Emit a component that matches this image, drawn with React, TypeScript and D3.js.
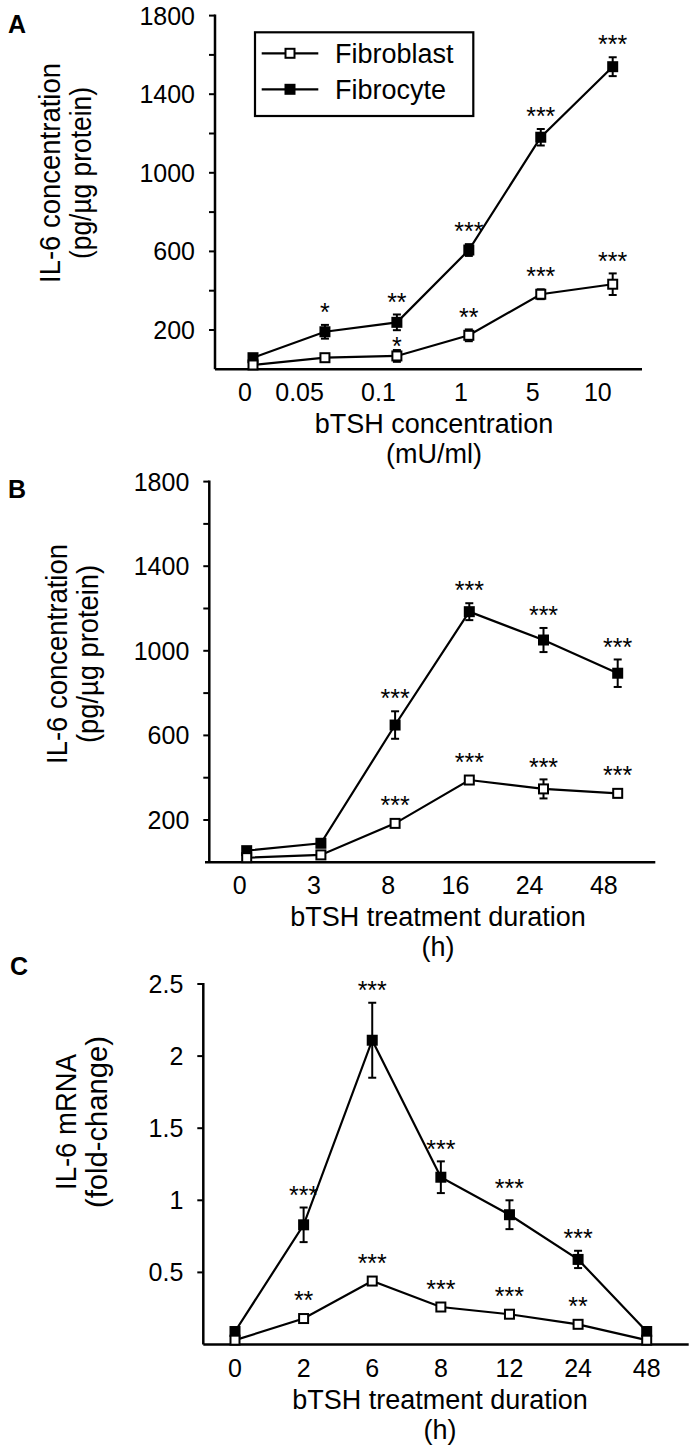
import React from "react";
import * as d3 from "d3";

// ---------- DATA ----------
// Panel A: bTSH concentration (mU/ml)
const aCats = ["0", "0.05", "0.1", "1", "5", "10"];
const aFibroblast = [22, 59, 68, 173, 382, 433];
const aFibroblastErr = [8, 12, 30, 30, 25, 55];
const aFibrocyte = [59, 191, 239, 607, 1181, 1540];
const aFibrocyteErr = [12, 35, 40, 30, 42, 48];
const aFibroblastSig = ["", "", "*", "**", "***", "***"];
const aFibrocyteSig = ["", "*", "**", "***", "***", "***"];

// Panel B: bTSH treatment duration (h), protein
const bCats = ["0", "3", "8", "16", "24", "48"];
const bFibroblast = [22, 35, 184, 389, 347, 326];
const bFibroblastErr = [8, 8, 12, 15, 45, 18];
const bFibrocyte = [55, 90, 649, 1185, 1051, 894];
const bFibrocyteErr = [12, 15, 65, 40, 57, 65];
const bFibroblastSig = ["", "", "***", "***", "***", "***"];
const bFibrocyteSig = ["", "", "***", "***", "***", "***"];

// Panel C: bTSH treatment duration (h), mRNA
const cCats = ["0", "2", "6", "8", "12", "24", "48"];
const cFibroblast = [0.03, 0.18, 0.44, 0.26, 0.21, 0.14, 0.03];
const cFibroblastErr = [0.01, 0.02, 0.02, 0.02, 0.02, 0.02, 0.01];
const cFibrocyte = [0.09, 0.83, 2.11, 1.16, 0.9, 0.59, 0.09];
const cFibrocyteErr = [0.02, 0.12, 0.26, 0.11, 0.1, 0.06, 0.03];
const cFibroblastSig = ["", "**", "***", "***", "***", "**", ""];
const cFibrocyteSig = ["", "***", "***", "***", "***", "***", ""];

const proteinTicks = [200, 400, 600, 800, 1000, 1200, 1400, 1600, 1800];
const proteinLabels = [200, 600, 1000, 1400, 1800];
const mrnaTicks = [0.5, 1, 1.5, 2, 2.5];
const mrnaLabels = [0.5, 1, 1.5, 2, 2.5];

const seriesNames = ["Fibroblast", "Fibrocyte"];

// ---------- STYLE ----------
const FONT = '"Liberation Sans", Arial, Helvetica, sans-serif';
const TICK_FS = 25;
const TITLE_FS = 27;
const YTITLE_FS = 30;
const STAR_FS = 25;
const LINE_W = 2.2;
const AXIS_W = 2.5;
const MK = 10;

type PanelCfg = {
  letter: string;
  letterX: number;
  letterY: number;
  cats: string[];
  fibroblast: number[];
  fibroblastErr: number[];
  fibrocyte: number[];
  fibrocyteErr: number[];
  fibroblastSig: string[];
  fibrocyteSig: string[];
  yMax: number;
  ticks: number[];
  labels: number[];
  axisX: number;
  yBottom: number;
  yTop: number;
  xStart: number;
  xEnd: number;
  px0: number;
  px1: number;
  labelAnchor: "end" | "middle";
  labelDx: number;
  yTitle: string[];
  yTitleLen: number[];
  yTitleX: number[];
  yTitleCY: number;
  xTitle: string[];
  xTitleCX: number;
  legend: boolean;
};

const panels: PanelCfg[] = [
  {
    letter: "A", letterX: 8, letterY: 33,
    cats: aCats, fibroblast: aFibroblast, fibroblastErr: aFibroblastErr,
    fibrocyte: aFibrocyte, fibrocyteErr: aFibrocyteErr,
    fibroblastSig: aFibroblastSig, fibrocyteSig: aFibrocyteSig,
    yMax: 1800, ticks: proteinTicks, labels: proteinLabels,
    axisX: 215, yBottom: 369.3, yTop: 15.6, xStart: 215, xEnd: 642,
    px0: 253, px1: 612.7, labelAnchor: "end", labelDx: -1,
    yTitle: ["IL-6 concentration", "(pg/µg protein)"], yTitleLen: [220, 172], yTitleX: [60, 91], yTitleCY: 173,
    xTitle: ["bTSH concentration", "(mU/ml)"], xTitleCX: 434, legend: true,
  },
  {
    letter: "B", letterX: 8, letterY: 498,
    cats: bCats, fibroblast: bFibroblast, fibroblastErr: bFibroblastErr,
    fibrocyte: bFibrocyte, fibrocyteErr: bFibrocyteErr,
    fibroblastSig: bFibroblastSig, fibrocyteSig: bFibrocyteSig,
    yMax: 1800, ticks: proteinTicks, labels: proteinLabels,
    axisX: 209.3, yBottom: 862.3, yTop: 481.6, xStart: 205, xEnd: 655.3,
    px0: 246.7, px1: 617.7, labelAnchor: "end", labelDx: 0,
    yTitle: ["IL-6 concentration", "(pg/µg protein)"], yTitleLen: [220, 178], yTitleX: [67, 98], yTitleCY: 654,
    xTitle: ["bTSH treatment duration", "(h)"], xTitleCX: 438, legend: false,
  },
  {
    letter: "C", letterX: 10, letterY: 975,
    cats: cCats, fibroblast: cFibroblast, fibroblastErr: cFibroblastErr,
    fibrocyte: cFibrocyte, fibrocyteErr: cFibrocyteErr,
    fibroblastSig: cFibroblastSig, fibrocyteSig: cFibrocyteSig,
    yMax: 2.5, ticks: mrnaTicks, labels: mrnaLabels,
    axisX: 203.3, yBottom: 1344.5, yTop: 984, xStart: 203.3, xEnd: 688.7,
    px0: 235, px1: 646.7, labelAnchor: "middle", labelDx: 0,
    yTitle: ["IL-6 mRNA", "(fold-change)"], yTitleLen: [136, 172], yTitleX: [76, 107], yTitleCY: 1122,
    xTitle: ["bTSH treatment duration", "(h)"], xTitleCX: 440, legend: false,
  },
];

function Series({ vals, errs, x, y, filled }: any) {
  const line = d3.line<number>().x((_, i) => x(i)).y((v) => y(v));
  return (
    <g>
      <path d={line(vals) || ""} fill="none" stroke="#000" strokeWidth={LINE_W} />
      {vals.map((v: number, i: number) => {
        const cx = x(i);
        const y1 = y(v + errs[i]);
        const y2 = y(v - errs[i]);
        return (
          <g key={"e" + i} stroke="#000" strokeWidth={2}>
            <line x1={cx} x2={cx} y1={y1} y2={y2} />
            <line x1={cx - 4} x2={cx + 4} y1={y1} y2={y1} />
            <line x1={cx - 4} x2={cx + 4} y1={y2} y2={y2} />
          </g>
        );
      })}
      {vals.map((v: number, i: number) =>
        filled ? (
          <rect key={"m" + i} x={x(i) - MK / 2 - 0.5} y={y(v) - MK / 2 - 0.5} width={MK + 1} height={MK + 1} fill="#000" />
        ) : (
          <rect key={"m" + i} x={x(i) - MK / 2 + 0.5} y={y(v) - MK / 2 + 0.5} width={MK - 1} height={MK - 1} fill="#fff" stroke="#000" strokeWidth={2} />
        )
      )}
    </g>
  );
}

function Panel({ p }: { p: PanelCfg }) {
  const n = p.cats.length;
  const x = d3.scaleLinear().domain([0, n - 1]).range([p.px0, p.px1]);
  const y = d3.scaleLinear().domain([0, p.yMax]).range([p.yBottom, p.yTop]);

  const stars: any[] = [];
  const addStars = (vals: number[], errs: number[], sig: string[], other: number[], otherErr: number[], key: string) => {
    vals.forEach((v, i) => {
      if (!sig[i]) return;
      const top = Math.min(y(v + errs[i]), y(v) - MK / 2 - 0.5);
      let cy = top - 18;
      const otherBottom = y(other[i] - otherErr[i]);
      if (otherBottom < y(v) && cy - 3.5 < otherBottom + 4) {
        cy = (otherBottom + top) / 2 + 1;
      }
      stars.push(
        <text key={key + i} x={x(i)} y={cy + 14.2} textAnchor="middle" fontSize={STAR_FS} fontFamily={FONT}>
          {sig[i]}
        </text>
      );
    });
  };
  addStars(p.fibrocyte, p.fibrocyteErr, p.fibrocyteSig, p.fibroblast, p.fibroblastErr, "sc");
  addStars(p.fibroblast, p.fibroblastErr, p.fibroblastSig, p.fibrocyte, p.fibrocyteErr, "sb");

  return (
    <g>
      <text x={p.letterX} y={p.letterY} fontSize={25} fontWeight="bold" fontFamily={FONT}>{p.letter}</text>
      {/* y axis */}
      <line x1={p.axisX} x2={p.axisX} y1={p.yBottom} y2={y(p.yMax) - 1} stroke="#000" strokeWidth={AXIS_W} />
      {p.ticks.map((t) => (
        <line key={"t" + t} x1={p.axisX - 6} x2={p.axisX} y1={y(t)} y2={y(t)} stroke="#000" strokeWidth={2} />
      ))}
      {p.labels.map((t) => (
        <text key={"l" + t} x={p.axisX - 20} y={y(t) + 9} textAnchor="end" fontSize={TICK_FS} fontFamily={FONT}>
          {String(t)}
        </text>
      ))}
      {/* x axis */}
      <line x1={p.xStart} x2={p.xEnd} y1={p.yBottom} y2={p.yBottom} stroke="#000" strokeWidth={AXIS_W} />
      {p.cats.map((c, i) => (
        <text key={"c" + i} x={x(i) + p.labelDx} y={p.yBottom + 32} textAnchor={p.labelAnchor} fontSize={TICK_FS} fontFamily={FONT}>
          {c}
        </text>
      ))}
      {/* titles */}
      {p.xTitle.map((t, i) => (
        <text key={"xt" + i} x={p.xTitleCX} y={p.yBottom + 64 + i * 30} textAnchor="middle" fontSize={TITLE_FS} fontFamily={FONT}>
          {t}
        </text>
      ))}
      {p.yTitle.map((t, i) => (
        <text
          key={"yt" + i}
          transform={`translate(${p.yTitleX[i]},${p.yTitleCY}) rotate(-90)`}
          x={-p.yTitleLen[i] / 2}
          textLength={p.yTitleLen[i]}
          lengthAdjust="spacingAndGlyphs"
          fontSize={YTITLE_FS}
          fontFamily={FONT}
        >
          {t}
        </text>
      ))}
      <Series vals={p.fibrocyte} errs={p.fibrocyteErr} x={x} y={y} filled={true} />
      <Series vals={p.fibroblast} errs={p.fibroblastErr} x={x} y={y} filled={false} />
      {stars}
      {p.legend && (
        <g>
          <rect x={255} y={32.3} width={218.3} height={83.7} fill="#fff" stroke="#000" strokeWidth={2.2} />
          {seriesNames.map((name, i) => {
            const ly = 53.3 + i * 36;
            return (
              <g key={name}>
                <line x1={261.7} x2={318.3} y1={ly} y2={ly} stroke="#000" strokeWidth={LINE_W} />
                {i === 0 ? (
                  <rect x={290 - MK / 2 + 0.5} y={ly - MK / 2 + 0.5} width={MK - 1} height={MK - 1} fill="#fff" stroke="#000" strokeWidth={2} />
                ) : (
                  <rect x={290 - MK / 2 - 0.5} y={ly - MK / 2 - 0.5} width={MK + 1} height={MK + 1} fill="#000" />
                )}
                <text x={335} y={ly + 10} fontSize={TITLE_FS} fontFamily={FONT}>{name}</text>
              </g>
            );
          })}
        </g>
      )}
    </g>
  );
}

export default function App() {
  return (
    <svg
      width={696}
      height={1454}
      viewBox="0 0 696 1454"
      style={{ position: "absolute", left: 0, top: 0, background: "#fff", display: "block" }}
    >
      <rect x={0} y={0} width={696} height={1454} fill="#fff" />
      {panels.map((p) => (
        <Panel key={p.letter} p={p} />
      ))}
    </svg>
  );
}
